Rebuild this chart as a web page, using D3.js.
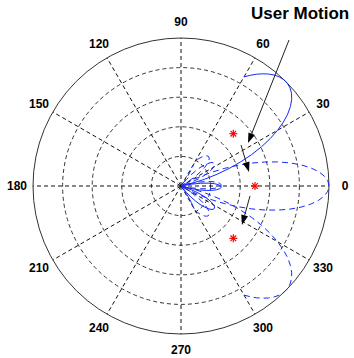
<!DOCTYPE html>
<html><head><meta charset="utf-8">
<script src="https://cdn.jsdelivr.net/npm/d3@7"></script>
<style>body{margin:0;background:#fff}svg{display:block}</style>
</head><body><svg id="chart" width="354" height="358"></svg>
<script>
// ---- data ----
const angleTicks = [0, 30, 60, 90, 120, 150, 180, 210, 240, 270, 300, 330];
const ringValues = [0.2, 0.4, 0.6, 0.8];
const thetaDeg = [-60,-58,-56,-54,-52,-50,-48,-46,-44,-42,-40,-38,-36,-34,-32,-30,-28,-26,-24,-22,-20,-18,-16,-14,-12,-10,-8,-6,-4,-2,
  0,2,4,6,8,10,12,14,16,18,20,22,24,26,28,30,32,34,36,38,40,42,44,46,48,50,52,54,56,58,60];
// beam steered to +45 deg (solid)
const beamP45 = [0.178,0.132,0.085,0.037,0.011,0.057,0.101,0.142,0.179,0.211,0.237,0.257,0.268,0.272,0.268,0.254,0.233,0.203,0.167,0.124,0.076,0.025,0.027,0.079,0.128,0.173,0.212,0.242,0.262,0.272,
  0.269,0.254,0.226,0.185,0.133,0.070,0.002,0.081,0.166,0.255,0.345,0.435,0.523,0.606,0.683,0.754,0.816,0.870,0.914,0.949,0.975,0.991,0.999,0.999,0.992,0.979,0.960,0.937,0.911,0.882,0.851];
// beam steered to 0 deg (dashed)
const beam0 = [0.191,0.210,0.228,0.244,0.257,0.266,0.272,0.272,0.265,0.252,0.231,0.202,0.164,0.118,0.063,0.000,0.071,0.149,0.232,0.319,0.409,0.500,0.588,0.673,0.752,0.823,0.884,0.934,0.970,0.993,
  1.000,0.993,0.970,0.934,0.884,0.823,0.752,0.673,0.588,0.500,0.409,0.319,0.232,0.149,0.071,0.000,0.063,0.118,0.164,0.202,0.231,0.252,0.265,0.272,0.272,0.266,0.257,0.244,0.228,0.210,0.191];
// beam steered to -45 deg (dashed)
const beamM45 = [0.851,0.882,0.911,0.937,0.960,0.979,0.992,0.999,0.999,0.991,0.975,0.949,0.914,0.870,0.816,0.754,0.683,0.606,0.523,0.435,0.345,0.255,0.166,0.081,0.002,0.070,0.133,0.185,0.226,0.254,
  0.269,0.272,0.262,0.242,0.212,0.173,0.128,0.079,0.027,0.025,0.076,0.124,0.167,0.203,0.233,0.254,0.268,0.272,0.268,0.257,0.237,0.211,0.179,0.142,0.101,0.057,0.011,0.037,0.085,0.132,0.178];
const userR = [0.5, 0.5, 0.5];
const userTheta = [45, 0, -45];
// annotation arrows: start/end in (r, theta deg)
const arrowStartR = [1.227, 0.491, 0.471];
const arrowStartT = [53.5, 34.3, -8.2];
const arrowEndR = [0.538, 0.469, 0.489];
const arrowEndT = [32.7, 11.6, -32.6];
const titleText = "User Motion";

// ---- layout ----
const cx = 181, cy = 186, R = 148;
const svg = d3.select("#chart");
const g = svg.append("g").attr("transform", `translate(${cx},${cy})`);
const r = d3.scaleLinear().domain([0, 1]).range([0, R]);
const rad = d => d * Math.PI / 180;
const px = (rv, t) => r(rv) * Math.cos(rad(t));
const py = (rv, t) => -r(rv) * Math.sin(rad(t));

// rings
g.selectAll("circle.ring").data(ringValues).join("circle")
  .attr("class", "ring").attr("r", d => r(d))
  .attr("fill", "none").attr("stroke", "#333").attr("stroke-width", 1)
  .attr("stroke-dasharray", "4,3");
// spokes
g.selectAll("line.spoke").data(angleTicks).join("line")
  .attr("x1", 0).attr("y1", 0)
  .attr("x2", d => px(1, d)).attr("y2", d => py(1, d))
  .attr("stroke", "#111").attr("stroke-width", 1).attr("stroke-dasharray", "4,3");
// outer circle
g.append("circle").attr("r", r(1)).attr("fill", "none").attr("stroke", "#333").attr("stroke-width", 1);
// angle labels
g.selectAll("text.lab").data(angleTicks).join("text")
  .attr("x", d => px(1.108, d)).attr("y", d => py(1.108, d))
  .attr("text-anchor", "middle").attr("dominant-baseline", "central")
  .attr("font-family", "Liberation Sans, Arial, sans-serif").attr("font-weight", "bold")
  .attr("font-size", 12).attr("fill", "#000").text(d => d);

// beams
const line = d3.lineRadial()
  .angle(d => rad(90 - d[0]))
  .radius(d => r(d[1]));
const series = [
  {vals: beam0, dash: "6,4"},
  {vals: beamM45, dash: "6,4"},
  {vals: beamP45, dash: null}
];
series.forEach(s => {
  g.append("path")
    .attr("d", line(thetaDeg.map((t, i) => [t, s.vals[i]])))
    .attr("fill", "none").attr("stroke", "#1428ff").attr("stroke-width", 1)
    .attr("stroke-dasharray", s.dash);
});

// user position markers (asterisks)
userR.forEach((rv, i) => {
  const x = px(rv, userTheta[i]), y = py(rv, userTheta[i]), s = 4;
  const m = g.append("g").attr("transform", `translate(${x},${y})`)
    .attr("stroke", "#ff0000").attr("stroke-width", 1.2);
  m.append("line").attr("x1", -s).attr("x2", s).attr("y1", 0).attr("y2", 0);
  m.append("line").attr("x1", 0).attr("x2", 0).attr("y1", -s).attr("y2", s);
  m.append("line").attr("x1", -s*0.7).attr("x2", s*0.7).attr("y1", -s*0.7).attr("y2", s*0.7);
  m.append("line").attr("x1", -s*0.7).attr("x2", s*0.7).attr("y1", s*0.7).attr("y2", -s*0.7);
});

// arrows
arrowStartR.forEach((sr, i) => {
  const x1 = px(sr, arrowStartT[i]), y1 = py(sr, arrowStartT[i]);
  const x2 = px(arrowEndR[i], arrowEndT[i]), y2 = py(arrowEndR[i], arrowEndT[i]);
  const ang = Math.atan2(y2 - y1, x2 - x1);
  const L = 10, W = 3.5;
  const bx = x2 - L * Math.cos(ang), by = y2 - L * Math.sin(ang);
  g.append("line").attr("x1", x1).attr("y1", y1).attr("x2", bx).attr("y2", by)
    .attr("stroke", "#222").attr("stroke-width", 1);
  const p1 = [bx + W * Math.sin(ang), by - W * Math.cos(ang)];
  const p2 = [bx - W * Math.sin(ang), by + W * Math.cos(ang)];
  g.append("path").attr("d", `M${x2},${y2}L${p1[0]},${p1[1]}L${p2[0]},${p2[1]}Z`)
    .attr("fill", "#000");
});

// title
svg.append("text").attr("x", 251).attr("y", 19)
  .attr("font-family", "Liberation Sans, Arial, sans-serif").attr("font-weight", "bold")
  .attr("font-size", 17).attr("fill", "#000").text(titleText);
</script></body></html>
